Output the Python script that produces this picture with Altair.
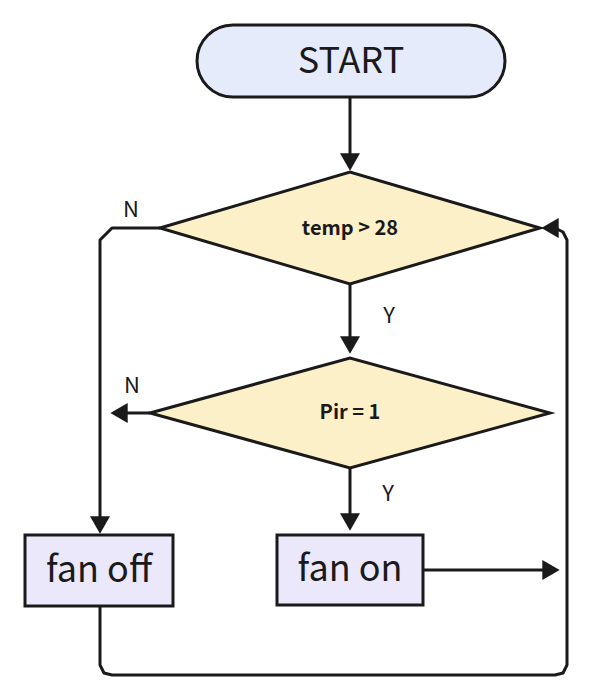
import pandas as pd
import altair as alt

FONT = "Noto Sans CJK SC"
INK = "#1a1a1a"

# ---- boxes (x1, x2, y1, y2 in picture coords) ----
box_names = ["start", "fan_off", "fan_on"]
box_x1 = [197, 25, 277]
box_x2 = [505, 173, 423]
box_y1 = [25, 535, 535]
box_y2 = [97, 606, 605]
box_fill = ["#e5ebfb", "#ece8fb", "#ece8fb"]

# ---- diamonds as areas: x, upper y, lower y ----
dia_id = ["d1"] * 3 + ["d2"] * 3
dia_x = [160, 350, 540, 150, 350, 550]
dia_top = [228, 172, 228, 413, 358, 413]
dia_bot = [228, 284, 228, 413, 468, 413]

# ---- connector paths ----
path_id = ["a"] * 2 + ["b"] * 2 + ["c"] * 2 + ["d"] * 4 + ["e"] * 2 + ["f"] * 2 + ["g"] * 10
path_x = [350, 350, 350, 350, 350, 350,
          160, 112, 100, 100,
          150, 115, 423, 545,
          100, 100, 104, 112, 555, 563, 567, 567, 563, 555]
path_y = [97, 160, 284, 345, 468, 522,
          228, 228, 240, 525,
          413, 413, 570, 570,
          606, 665, 673, 675, 675, 673, 665, 240, 232, 228]

# ---- arrow heads ----
head_x = [350, 350, 350, 100, 119, 551, 550]
head_y = [162, 345, 522, 525, 413, 570, 228]
head_shape = ["triangle-down", "triangle-down", "triangle-down", "triangle-down",
              "triangle-left", "triangle-right", "triangle-left"]

# ---- labels ----
big_text = ["START", "fan off", "fan on"]
big_x = [351, 99, 350]
big_y = [62, 571, 570]
mid_text = ["temp > 28", "Pir = 1"]
mid_x = [350, 350]
mid_y = [229, 413]
small_text = ["N", "Y", "N", "Y"]
small_x = [131, 389, 132, 388]
small_y = [210, 316, 386, 494]

xs = alt.Scale(domain=[8, 592], nice=False, zero=False)
ys = alt.Scale(domain=[687, 8], nice=False, zero=False)
X = lambda f: alt.X(f, scale=xs, axis=None)
Y = lambda f: alt.Y(f, scale=ys, axis=None)

boxes = pd.DataFrame({"name": box_names, "x1": box_x1, "x2": box_x2,
                      "y1": box_y1, "y2": box_y2, "fill": box_fill})
start = alt.Chart(boxes[boxes.name == "start"]).mark_rect(
    cornerRadius=36, stroke=INK, strokeWidth=3
).encode(x=X("x1:Q"), x2="x2:Q", y=Y("y1:Q"), y2="y2:Q",
         fill=alt.Fill("fill:N", scale=None))
rects = alt.Chart(boxes[boxes.name != "start"]).mark_rect(
    stroke=INK, strokeWidth=3
).encode(x=X("x1:Q"), x2="x2:Q", y=Y("y1:Q"), y2="y2:Q",
         fill=alt.Fill("fill:N", scale=None))

dia = pd.DataFrame({"id": dia_id, "x": dia_x, "top": dia_top, "bot": dia_bot})
diamonds = alt.Chart(dia).mark_area(
    fill="#fcf0c8", stroke=INK, strokeWidth=3, opacity=1, interpolate="linear"
).encode(x=X("x:Q"), y=Y("top:Q"), y2="bot:Q", detail="id:N")

paths = pd.DataFrame({"id": path_id, "x": path_x, "y": path_y,
                      "o": list(range(len(path_x)))})
lines = alt.Chart(paths).mark_line(
    color=INK, strokeWidth=3, strokeJoin="round"
).encode(x=X("x:Q"), y=Y("y:Q"), detail="id:N", order="o:Q")

heads = pd.DataFrame({"x": head_x, "y": head_y, "s": head_shape})
arrows = alt.Chart(heads).mark_point(
    filled=True, color=INK, opacity=1, size=400
).encode(x=X("x:Q"), y=Y("y:Q"), shape=alt.Shape("s:N", scale=None))

def texts(t, x, y, size, weight="normal"):
    df = pd.DataFrame({"t": t, "x": x, "y": y})
    return alt.Chart(df).mark_text(
        font=FONT, fontSize=size, fontWeight=weight, color=INK,
        align="center", baseline="middle"
    ).encode(x=X("x:Q"), y=Y("y:Q"), text="t:N")

chart = alt.layer(
    lines, diamonds, start, rects, arrows,
    texts(big_text, big_x, big_y, 36),
    texts(mid_text, mid_x, mid_y, 20, "bold"),
    texts(small_text, small_x, small_y, 22),
).properties(
    width=584, height=679, padding=0, autosize="none", background="white"
).configure_view(stroke=None)

chart.save("out.html", embed_options={"renderer": "svg", "actions": False})
